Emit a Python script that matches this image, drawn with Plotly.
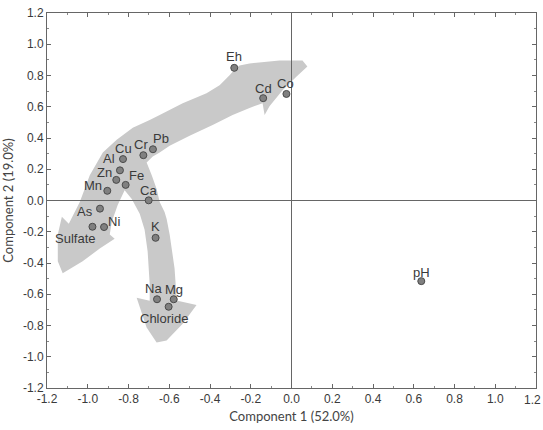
import plotly.graph_objects as go

# ---- data (loadings) ----
labels = ["Eh", "Cd", "Co", "Pb", "Cr", "Cu", "Al", "Zn", "Fe", "Mn", "Ca",
          "As", "Ni", "Sulfate", "K", "Na", "Mg", "Chloride", "pH"]
comp1 = [-0.281, -0.139, -0.025, -0.680, -0.727, -0.827, -0.842, -0.860, -0.814, -0.904, -0.701,
         -0.940, -0.920, -0.977, -0.667, -0.660, -0.578, -0.603, 0.637]
comp2 = [0.849, 0.655, 0.682, 0.328, 0.290, 0.265, 0.193, 0.132, 0.100, 0.062, 0.001,
         -0.052, -0.170, -0.168, -0.239, -0.632, -0.632, -0.680, -0.516]
tick_vals = [-1.2, -1.0, -0.8, -0.6, -0.4, -0.2, 0.0, 0.2, 0.4, 0.6, 0.8, 1.0, 1.2]
tick_text = ["%.1f" % v for v in tick_vals]

# ---- label offsets (px) ----
label_shift = {
    "Eh": (0, 11), "Cd": (0, 10), "Co": (-1, 10), "Pb": (8, 11), "Cr": (-2, 11),
    "Cu": (0, 11), "Al": (-11, 12), "Zn": (-12, 7), "Fe": (11, 9), "Mn": (-14, 5),
    "Ca": (0, 10), "As": (-15, -3), "Ni": (10, 6), "Sulfate": (-17, -12), "K": (0, 11),
    "Na": (-4, 11), "Mg": (0, 10), "Chloride": (-5, -12), "pH": (0, 9),
}

# ---- decorative arrow outline (data coords) ----
arrow_pts = [
    (0.078, 0.858), (0.025, 0.794), (-0.044, 0.706), (-0.108, 0.604), (-0.132, 0.547),
    (-0.142, 0.623), (-0.206, 0.592), (-0.289, 0.547), (-0.387, 0.484), (-0.500, 0.415),
    (-0.598, 0.351), (-0.647, 0.307), (-0.681, 0.282), (-0.711, 0.244), (-0.686, 0.161),
    (-0.662, 0.073), (-0.647, -0.009), (-0.623, -0.073), (-0.613, -0.117), (-0.598, -0.218),
    (-0.574, -0.434), (-0.564, -0.623), (-0.559, -0.642), (-0.466, -0.668), (-0.534, -0.788),
    (-0.613, -0.896), (-0.662, -0.908), (-0.711, -0.813), (-0.760, -0.623), (-0.696, -0.642),
    (-0.696, -0.535), (-0.706, -0.326), (-0.721, -0.187), (-0.745, -0.085), (-0.784, 0.009),
    (-0.819, 0.066), (-0.853, -0.028), (-0.882, -0.136), (-0.892, -0.218), (-0.868, -0.244),
    (-0.941, -0.307), (-1.025, -0.389), (-1.123, -0.465), (-1.147, -0.389), (-1.147, -0.218),
    (-1.127, -0.104), (-1.093, -0.149), (-1.039, -0.009), (-0.990, 0.161), (-0.926, 0.307),
    (-0.858, 0.389), (-0.779, 0.465), (-0.696, 0.516), (-0.647, 0.547), (-0.534, 0.623),
    (-0.417, 0.687), (-0.353, 0.737), (-0.304, 0.801), (-0.279, 0.839), (-0.255, 0.864),
    (-0.206, 0.877), (-0.059, 0.896), (0.054, 0.896),
]
path = "M " + " L ".join(f"{x},{y}" for x, y in arrow_pts) + " Z"

fig = go.Figure()
fig.add_trace(go.Scatter(
    x=comp1, y=comp2, mode="markers",
    marker=dict(size=7, color="#808080", line=dict(color="#4a4a4a", width=1)),
    hoverinfo="text", text=labels, showlegend=False,
))

for lab, x, y in zip(labels, comp1, comp2):
    dx, dy = label_shift[lab]
    fig.add_annotation(x=x, y=y, text=lab, showarrow=False, xshift=dx, yshift=dy,
                       font=dict(family="Liberation Sans, Arial", size=13, color="#3a3a3a"))

fig.add_shape(type="path", path=path, xref="x", yref="y", layer="below",
              fillcolor="#c9c9c9", line=dict(width=0))

tickfont = dict(family="Liberation Sans, Arial", size=12, color="#3a3a3a")
axis_common = dict(
    range=[-1.2, 1.2], tickvals=tick_vals, ticktext=tick_text,
    ticks="inside", ticklen=4, tickcolor="#666", tickwidth=1,
    showline=True, linecolor="#666", linewidth=1, mirror="allticks",
    showgrid=False, zeroline=True, zerolinecolor="#666", zerolinewidth=1,
    tickfont=tickfont,
    minor=dict(dtick=0.1, ticks="inside", ticklen=2, tickcolor="#888", showgrid=False),
)
fig.update_xaxes(**axis_common,
                 title=dict(text="Component 1 (52.0%)", standoff=6,
                            font=dict(family="Lato", size=13, color="#444")))
fig.update_yaxes(**axis_common,
                 title=dict(text="Component 2 (19.0%)", standoff=6,
                            font=dict(family="Lato", size=13, color="#444")))

# last x tick label, kept inside the page edge
fig.add_annotation(x=tick_vals[-1], y=0, xref="x", yref="paper", text=tick_text[-1],
                   showarrow=False, yanchor="top", yshift=-3, xshift=-4, font=tickfont)

fig.update_layout(
    width=543, height=430,
    margin=dict(l=47, r=6, t=9, b=42),
    plot_bgcolor="white", paper_bgcolor="white",
)
fig.write_html("out.html")
